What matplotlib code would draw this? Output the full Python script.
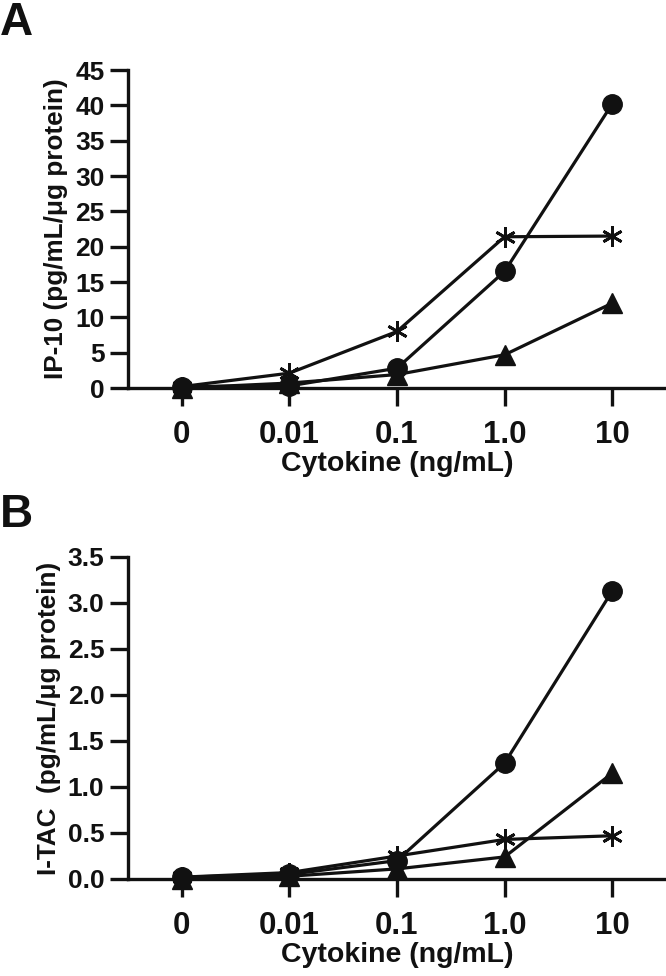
import matplotlib
matplotlib.use("Agg")
import matplotlib.pyplot as plt

plt.rcParams['font.family'] = ['Liberation Sans', 'DejaVu Sans']
plt.rcParams['font.weight'] = 'bold'

categories = ["0", "0.01", "0.1", "1.0", "10"]

# Panel A: IP-10
ip10_circle = [0.2, 0.3, 2.8, 16.5, 40.2]
ip10_star = [0.2, 2.1, 8.0, 21.4, 21.5]
ip10_triangle = [0.0, 0.7, 1.9, 4.7, 12.0]

# Panel B: I-TAC
itac_circle = [0.02, 0.05, 0.2, 1.26, 3.13]
itac_star = [0.02, 0.07, 0.25, 0.43, 0.47]
itac_triangle = [0.0, 0.03, 0.11, 0.24, 1.15]

INK = '#111111'
W, H = 666, 976
fig = plt.figure(figsize=(W / 100, H / 100), dpi=100)


def px_axes(left, right, top, bottom):
    return fig.add_axes([left / W, 1 - bottom / H, (right - left) / W, (bottom - top) / H])


def style(ax, ylim, yticks, yticklabels, ylabel):
    x = list(range(len(categories)))
    ax.set_xlim(-0.5, 4.5)
    ax.set_ylim(*ylim)
    for s in ('top', 'right'):
        ax.spines[s].set_visible(False)
    for s in ('left', 'bottom'):
        ax.spines[s].set_linewidth(2.4)
        ax.spines[s].set_color(INK)
    ax.set_xticks(x)
    ax.set_xticklabels(categories, fontsize=22.5, fontweight='bold', color=INK)
    ax.set_yticks(yticks)
    ax.set_yticklabels(yticklabels, fontsize=19, fontweight='bold', color=INK)
    ax.tick_params(axis='both', direction='out', length=13, width=2.4, color=INK)
    ax.tick_params(axis='y', pad=4)
    ax.tick_params(axis='x', pad=10)
    ax.set_xlabel("Cytokine (ng/mL)", fontsize=20.5, fontweight='bold', color=INK, labelpad=1)
    ax.set_ylabel(ylabel, fontsize=18.8, fontweight='bold', color=INK, labelpad=5)
    ax.patch.set_alpha(0)


def draw(ax, circ, star, tri):
    x = list(range(len(categories)))
    common = dict(color=INK, lw=2.3, clip_on=False, zorder=3)
    ax.plot(x, circ, marker='o', ms=14, mfc=INK, mec=INK, **common)
    ax.plot(x, star, marker=(6, 2, 0), ms=15, mec=INK, mew=2.0, **common)
    ax.plot(x, tri, marker='^', ms=14, mfc=INK, mec=INK, **common)


a_ticks = list(range(0, 46, 5))
axA = px_axes(128, 666, 70, 388)
draw(axA, ip10_circle, ip10_star, ip10_triangle)
style(axA, (0, 45), a_ticks, [str(v) for v in a_ticks], "IP-10 (pg/mL/\u03bcg protein)")

b_ticks = [0, 0.5, 1.0, 1.5, 2.0, 2.5, 3.0, 3.5]
axB = px_axes(128, 666, 557, 879)
draw(axB, itac_circle, itac_star, itac_triangle)
style(axB, (0, 3.5), b_ticks, [f"{v:.1f}" for v in b_ticks], "I-TAC  (pg/mL/\u03bcg protein)")

fig.text(0 / W, 1 - 35 / H, "A", fontsize=33, fontweight='bold', color=INK, ha='left', va='baseline')
fig.text(0 / W, 1 - 527 / H, "B", fontsize=33, fontweight='bold', color=INK, ha='left', va='baseline')

fig.savefig("out.png", dpi=100)
